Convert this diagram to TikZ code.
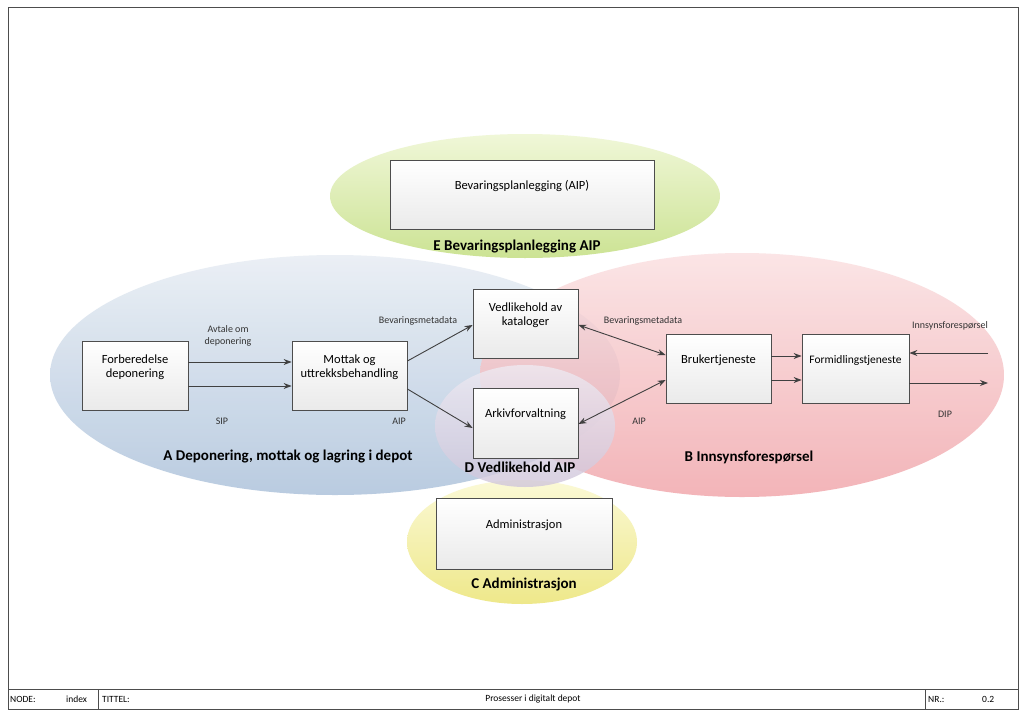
\documentclass[tikz,border=0pt]{standalone}
\usepackage{fontspec}
\setmainfont{Carlito}
\usepackage{tikz}
\usetikzlibrary{positioning,arrows.meta}
\definecolor{boxline}{HTML}{4D4D4D}
\definecolor{boxbottom}{HTML}{EAEAEA}
\definecolor{arrowgray}{HTML}{404040}
\definecolor{tagtext}{HTML}{333333}
\definecolor{blueTop}{HTML}{EAEFF5}
\definecolor{blueBot}{HTML}{B6C9DF}
\definecolor{redTop}{HTML}{FADFE0}
\definecolor{redBot}{HTML}{F0A2A7}
\definecolor{greenTop}{HTML}{F0F7D8}
\definecolor{greenBot}{HTML}{CCE394}
\definecolor{yellowTop}{HTML}{FBF9D6}
\definecolor{yellowBot}{HTML}{EEE88A}
\definecolor{lilacTop}{HTML}{EEEAF2}
\definecolor{lilacBot}{HTML}{D0C6DB}
\newcommand{\lift}[1]{\raisebox{8pt}[\height][\depth]{\begin{tabular}{@{}c@{}}#1\end{tabular}}}

\begin{document}
\begin{tikzpicture}[x = 1pt, y = -1pt,
  box/.style = {draw = boxline, line width = .8pt, top color = white, bottom color = boxbottom, inner sep = 2pt, font = \fontsize{12.5}{14.5}\selectfont},
  tag/.style = {font = \fontsize{10}{11.5}\selectfont, text = tagtext, align = center, inner sep = 1pt},
  area/.style = {font = \bfseries\fontsize{15}{18}\selectfont, inner sep = 1pt},
  flow/.style = {draw = arrowgray, line width = .9pt, -{Stealth[length = 8pt, width = 6pt]}},
  both/.style = {flow, {Stealth[length = 8pt, width = 6pt]}-{Stealth[length = 8pt, width = 6pt]}},
  foot/.style = {font = \fontsize{9.5}{11}\selectfont, anchor = west, inner sep = 0pt}]
\fill[white] (0,0) rectangle (1024,717);
\useasboundingbox (0,0) rectangle (1024,717);

% background areas
\shade[top color = greenTop, bottom color = greenBot] (525,196) ellipse [x radius = 195, y radius = 62];
\shade[top color = yellowTop, bottom color = yellowBot] (522,542) ellipse [x radius = 115, y radius = 62];
\shade[top color = blueTop, bottom color = blueBot, fill opacity = .95] (335,375) ellipse [x radius = 285, y radius = 120];
\shade[top color = redTop, bottom color = redBot, fill opacity = .8] (742,375) ellipse [x radius = 262, y radius = 122];
\shade[top color = lilacTop, bottom color = lilacBot, fill opacity = .8] (525,426) ellipse [x radius = 90, y radius = 61];

% processes
\node[box, minimum width = 264, minimum height = 69] (plan) at (522,194.5) {\lift{Bevaringsplanlegging (AIP)}};
\node[box, minimum width = 106, minimum height = 69] (forb) at (135,375.5) {\lift{Forberedelse\\deponering}};
\node[box, minimum width = 115, minimum height = 69] (mottak) at (349.5,375.5) {\lift{Mottak og\\uttrekksbehandling}};
\node[box, minimum width = 105, minimum height = 69] (katalog) at (525.5,323.5) {\lift{Vedlikehold av\\kataloger}};
\node[box, minimum width = 105, minimum height = 70] (arkiv) at (525.5,423) {\lift{Arkivforvaltning}};
\node[box, minimum width = 105, minimum height = 69] (bruker) at (718.5,368.5) {\lift{Brukertjeneste}};
\node[box, minimum width = 107, minimum height = 69, font = \fontsize{11.5}{13.5}\selectfont] (formidl) at (855.5,368.5) {\lift{Formidlingstjeneste}};
\node[box, minimum width = 176, minimum height = 71] (admin) at (524,533.5) {\lift{Administrasjon}};

% flows
\draw[flow] ([yshift = 13.5pt]forb.east) -- ([yshift = 13.5pt]mottak.west);
\draw[flow] ([yshift = -10.5pt]forb.east) -- ([yshift = -10.5pt]mottak.west);
\draw[flow] ([yshift = 14.5pt]mottak.east) -- ([yshift = -1.5pt]katalog.west);
\draw[flow] ([yshift = -13.5pt]mottak.east) -- ([yshift = -5pt]arkiv.west);
\draw[both] ([yshift = -1.5pt]katalog.east) -- ([yshift = 13.5pt]bruker.west);
\draw[both] ([yshift = -1pt]arkiv.east) -- ([yshift = -11.5pt]bruker.west);
\draw[flow] ([yshift = 12.5pt]bruker.east) -- ([yshift = 12.5pt]formidl.west);
\draw[flow] ([yshift = -11.5pt]bruker.east) -- ([yshift = -11.5pt]formidl.west);
\coordinate (inn) at (988,353);
\coordinate (ut) at (988,383);
\draw[flow] (inn) -- (formidl.east |- inn);
\draw[flow] (formidl.east |- ut) -- (ut);

% flow labels
\node[tag] (avtale) at (228,336) {Avtale om\\deponering};
\node[tag] (sip) at (222,421) {SIP};
\node[tag] (metaA) at (418,321) {Bevaringsmetadata};
\node[tag] (aipA) at (399,421) {AIP};
\node[tag] (metaB) at (643,321) {Bevaringsmetadata};
\node[tag] (aipB) at (639,421) {AIP};
\node[tag] (innsyn) at (950,326) {Innsynsforespørsel};
\node[tag] (dip) at (945,414) {DIP};

% area labels
\node[area] (areaE) at (517,247) {E Bevaringsplanlegging AIP};
\node[area] (areaA) at (288,457) {A Deponering, mottak og lagring i depot};
\node[area] (areaD) at (520,467) {D Vedlikehold AIP};
\node[area] (areaB) at (749,457) {B Innsynsforespørsel};
\node[area] (areaC) at (524,584) {C Administrasjon};

% frame and title block
\draw[boxline, line width = .8pt] (8,7) rectangle (1018,709);
\draw[boxline, line width = .8pt] (8,689) -- (1018,689);
\draw[boxline, line width = .8pt] (98,689) -- (98,709);
\draw[boxline, line width = .8pt] (925,689) -- (925,709);
\node[foot] (nodekey) at (10,699) {NODE:};
\node[foot] (nodeval) at (66,699) {index};
\node[foot] (titlekey) at (102,699) {TITTEL:};
\node[foot, anchor = center] (titleval) at (533,699) {Prosesser i digitalt depot};
\node[foot] (nrkey) at (928,699) {NR.:};
\node[foot] (nrval) at (982,699) {0.2};
\end{tikzpicture}
\end{document}
